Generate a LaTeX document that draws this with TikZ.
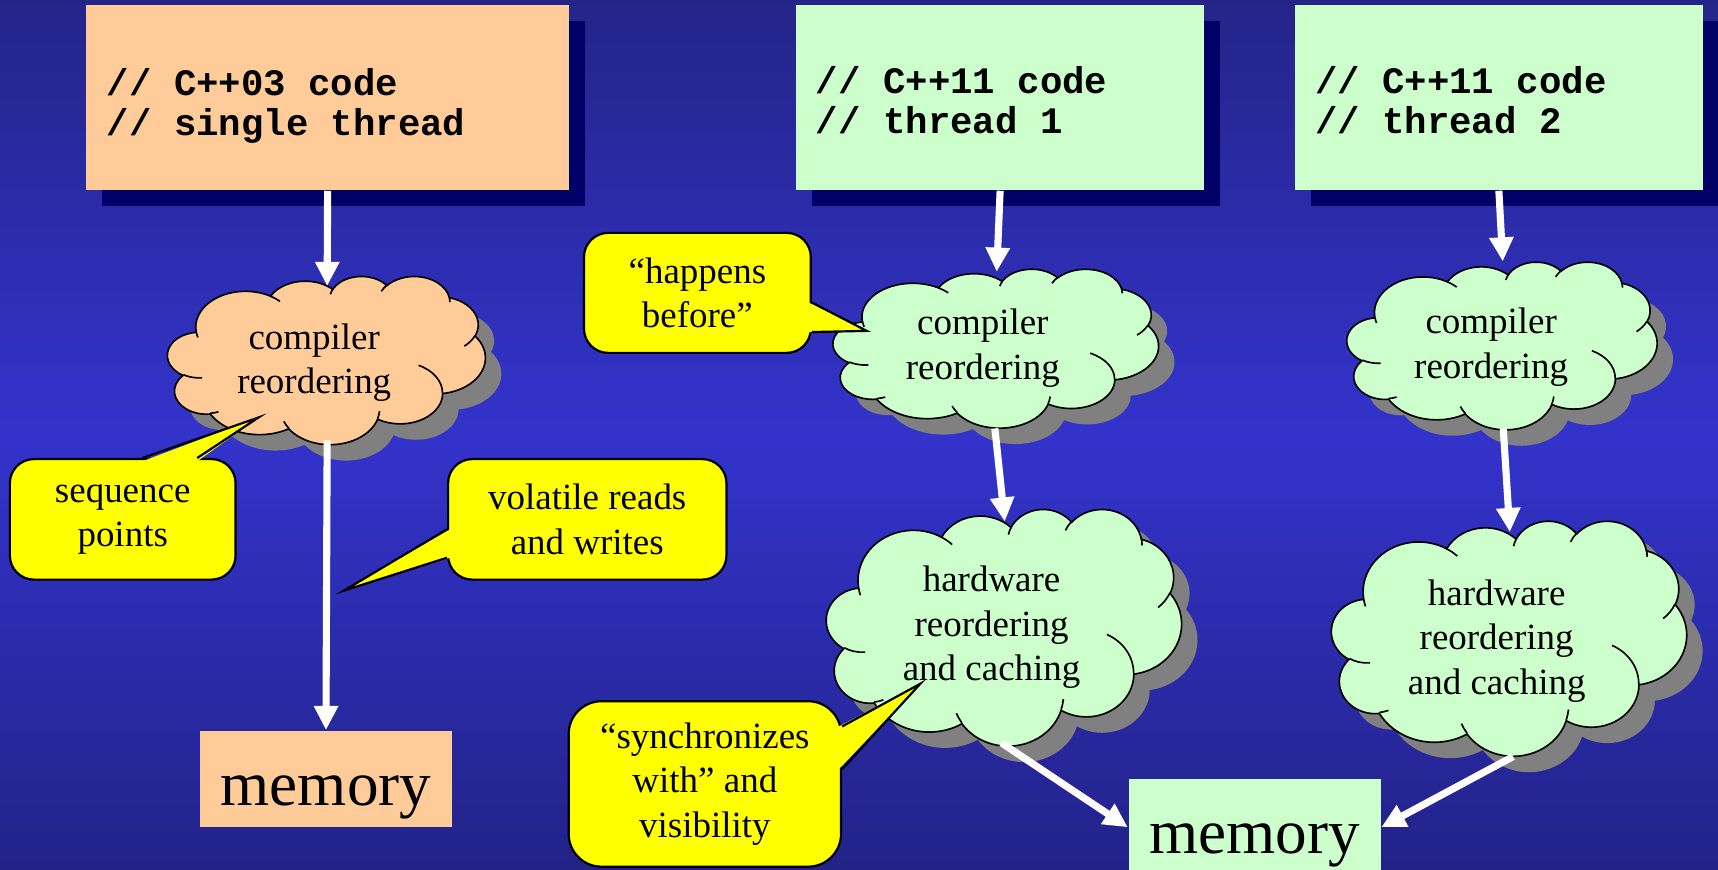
\documentclass[tikz,border=0pt]{standalone}
\usepackage{fontspec}
\setmainfont{Liberation Serif}
\setmonofont{Liberation Mono}
\usetikzlibrary{shadows,calc,arrows.meta}

\definecolor{bgtop}{RGB}{36,36,136}
\definecolor{bgmid}{RGB}{51,51,204}
\definecolor{bgbot}{RGB}{34,34,136}
\definecolor{peach}{HTML}{FFCC99}
\definecolor{mint}{HTML}{CCFFCC}
\definecolor{noteyellow}{HTML}{FFFF00}
\definecolor{boxshadow}{HTML}{000066}
\definecolor{cloudshadow}{HTML}{808080}

% Cloud outline on a 43.2 x 43.2 grid (eleven puffs, closed).
\newcommand\cloudbody[1]{%
  \path[#1] (3.9,14.37)
    arc[start angle=172.25, end angle=300.37, x radius=6.753, y radius=9.19]
    arc[start angle=-152.06, end angle=-45.44, x radius=5.333, y radius=7.267]
    arc[start angle=-153.50, end angle=-37.33, x radius=4.365, y radius=5.945]
    arc[start angle=-139.73, end angle=-10.21, x radius=4.857, y radius=6.595]
    arc[start angle=-74.77, end angle=23.21, x radius=5.333, y radius=7.273]
    arc[start angle=-37.52, end angle=81.86, x radius=6.775, y radius=9.22]
    arc[start angle=0.46, end angle=121.98, x radius=5.785, y radius=7.867]
    arc[start angle=16.84, end angle=146.21, x radius=6.752, y radius=9.215]
    arc[start angle=58.98, end angle=150.19, x radius=7.72, y radius=10.543]
    arc[start angle=83.31, end angle=223.09, x radius=4.36, y radius=5.918]
    arc[start angle=120.35, end angle=264.11, x radius=4.345, y radius=5.945]
    -- cycle;}
% Short inner strokes where the puffs overlap.
\newcommand\cloudfolds[1]{%
  \path[#1]
    (4.693,26.177) arc[start angle=85.55, end angle=120.35, x radius=4.345, y radius=5.945]
    (6.928,34.899) arc[start angle=68.24, end angle=83.31, x radius=4.36, y radius=5.918]
    (16.478,39.09) arc[start angle=146.21, end angle=158.47, x radius=6.752, y radius=9.215]
    (28.827,34.751) arc[start angle=4.74, end angle=16.84, x radius=6.752, y radius=9.215]
    (34.129,22.954) arc[start angle=-64.03, end angle=0.46, x radius=5.785, y radius=7.867]
    (41.798,15.354) arc[start angle=23.21, end angle=49.64, x radius=5.333, y radius=7.273]
    (38.324,5.426) arc[start angle=-10.21, end angle=0.82, x radius=4.857, y radius=6.595]
    (29.078,3.952) arc[start angle=-156.30, end angle=-139.73, x radius=4.857, y radius=6.595]
    (22.141,4.72) arc[start angle=-167.72, end angle=-153.50, x radius=4.365, y radius=5.945]
    (14.0,5.192) arc[start angle=-59.63, end angle=-45.74, x radius=6.753, y radius=9.19]
    (4.127,15.789) arc[start angle=163.19, end angle=172.25, x radius=6.753, y radius=9.19];}
% Draw a shadowed cloud filling the frame of a named node.
\newcommand\drawcloud[4]{% node, width (mm), height (mm), fill colour
  \begin{scope}[shift={(#1.north west)}, x=#2mm/43.2, y=-#3mm/43.2]
    \cloudbody{fill=cloudshadow, xshift=1.45mm, yshift=-1.45mm}
    \cloudbody{fill=#4, draw=black, line width=0.15mm}
    \cloudfolds{draw=black, line width=0.15mm}
  \end{scope}}

\begin{document}
\begin{tikzpicture}[x=1mm,y=-1mm,
  codebox/.style={rectangle, draw=none, inner sep=0, minimum height=16.88mm,
    drop shadow={shadow xshift=1.45mm, shadow yshift=-1.45mm, fill=boxshadow, opacity=1}},
  codetext/.style={align=left, inner sep=0, anchor=west,
    font=\fontsize{9.7}{10.45}\selectfont\ttfamily\bfseries},
  cloudframe/.style={rectangle, draw=none, inner sep=0},
  cloudtext/.style={align=center, inner sep=0,
    font=\fontsize{9.6}{11.6}\selectfont},
  membox/.style={rectangle, draw=none, inner sep=0, minimum width=23mm, minimum height=8.8mm,
    font=\fontsize{16.4}{19}\selectfont, text height=6.1mm, text depth=1.3mm},
  note/.style={rectangle, fill=noteyellow, draw=black, line width=0.2mm, inner sep=0,
    rounded corners=2.2mm, align=center, font=\fontsize{9.6}{11.5}\selectfont},
  notefill/.style={fill=noteyellow},
  noteedge/.style={draw=black, line width=0.2mm, line join=miter},
  flow/.style={draw=white, line width=0.65mm, -{Triangle[width=2.1mm,length=2.2mm]}}
]

% background
\useasboundingbox (0,0) rectangle (156.8,79.4);
\shade[top color=bgtop, bottom color=bgbot, middle color=bgmid] (0,0) rectangle (156.8,79.4);

% code boxes
\node[codebox, fill=peach, minimum width=44.13mm] (b1) at (29.9,8.9) {};
\node[codebox, fill=mint, minimum width=37.24mm] (b2) at (91.28,8.9) {};
\node[codebox, fill=mint, minimum width=37.17mm] (b3) at (136.8,8.9) {};
\node[codetext] (b1t) at ($(b1.west)+(1.91,0.75)$) {// C++03 code\\// single thread};
\node[codetext] (b2t) at ($(b2.west)+(1.81,0.25)$) {// C++11 code\\// thread 1};
\node[codetext] (b3t) at ($(b3.west)+(1.81,0.25)$) {// C++11 code\\// thread 2};

% reordering clouds
\node[cloudframe, minimum width=29.0mm, minimum height=15.35mm] (c1) at (29.86,32.93) {};
\node[cloudframe, minimum width=29.7mm, minimum height=14.5mm] (c2) at (90.95,31.85) {};
\node[cloudframe, minimum width=32.4mm, minimum height=21.6mm] (c3) at (91.7,57.3) {};
\node[cloudframe, minimum width=28.3mm, minimum height=15.3mm] (c4) at (137.15,31.6) {};
\node[cloudframe, minimum width=32.4mm, minimum height=21.45mm] (c5) at (137.8,58.3) {};
\drawcloud{c1}{29.0}{15.35}{peach}
\drawcloud{c2}{29.7}{14.5}{mint}
\drawcloud{c3}{32.4}{21.6}{mint}
\drawcloud{c4}{28.3}{15.3}{mint}
\drawcloud{c5}{32.4}{21.45}{mint}
\node[cloudtext] (c1t) at (28.68,33.1) {compiler\\reordering};
\node[cloudtext] (c2t) at (89.7,31.8) {compiler\\reordering};
\node[cloudtext] (c3t) at (90.5,57.25) {hardware\\reordering\\and caching};
\node[cloudtext] (c4t) at (136.1,31.7) {compiler\\reordering};
\node[cloudtext] (c5t) at (136.6,58.5) {hardware\\reordering\\and caching};

% memory
\node[membox, fill=peach] (m1) at (29.75,71.1) {memory};
\node[membox, fill=mint] (m2) at (114.5,75.5) {memory};

% flow arrows
\draw[flow] (b1.south) -- ($(c1.center)+(0,-6.83)$);
\draw[flow] ($(c1.center)+(0,7.27)$) -- (m1.north);
\draw[flow] (b2.south) -- ($(c2.center)+(0.02,-7.05)$);
\draw[flow] ($(c2.center)+(-0.15,7.25)$) -- ($(c3.center)+(0,-9.7)$);
\draw[flow] (b3.south) -- ($(c4.center)+(0,-7.74)$);
\draw[flow] ($(c4.center)+(0.05,7.5)$) -- ($(c5.center)+(0,-9.74)$);
\draw[flow] ($(c3.center)+(-0.3,10.5)$) -- (m2.west);
\draw[flow] ($(c5.center)+(0.3,10.75)$) -- (m2.east);

% callout notes
\node[note, minimum width=20.6mm, minimum height=11.0mm] (n1) at (11.2,47.4) {sequence\\points};
\node[note, minimum width=25.4mm, minimum height=11.0mm] (n2) at (53.6,47.4) {volatile reads\\and writes};
\node[note, minimum width=20.7mm, minimum height=10.95mm] (n3) at (63.65,26.73) {“happens\\before”};
\node[note, minimum width=24.86mm, minimum height=15.1mm, rounded corners=3mm] (n4) at (64.33,71.55) {“synchronizes\\with” and\\visibility};

\coordinate (p1) at (23.6,38.1);
\coordinate (p2) at (31.4,53.9);
\coordinate (p3) at (79.1,30.2);
\coordinate (p4) at (84.0,62.4);

\fill[notefill] ($(n1.north west)+(12.2,0.3)$) -- (p1) -- ($(n1.north west)+(17.2,0.3)$) -- cycle;
\draw[noteedge] ($(n1.north west)+(12.2,0)$) -- (p1) -- ($(n1.north west)+(17.2,0)$);

\fill[notefill] ($(n2.north west)+(0.3,6.5)$) -- (p2) -- ($(n2.north west)+(0.3,9.1)$) -- cycle;
\draw[noteedge] ($(n2.north west)+(0,6.5)$) -- (p2) -- ($(n2.north west)+(0,9.1)$);

\fill[notefill] ($(n3.north east)+(-0.3,6.45)$) -- (p3) -- ($(n3.north east)+(-0.3,9.15)$) -- cycle;
\draw[noteedge] ($(n3.north east)+(0,6.45)$) -- (p3) -- ($(n3.north east)+(0,9.15)$);

\fill[notefill] ($(n4.north east)+(-0.3,2.4)$) -- (p4) -- ($(n4.north east)+(-0.3,6.3)$) -- cycle;
\draw[noteedge] ($(n4.north east)+(0,2.4)$) -- (p4) -- ($(n4.north east)+(0,6.3)$);

\end{tikzpicture}
\end{document}
